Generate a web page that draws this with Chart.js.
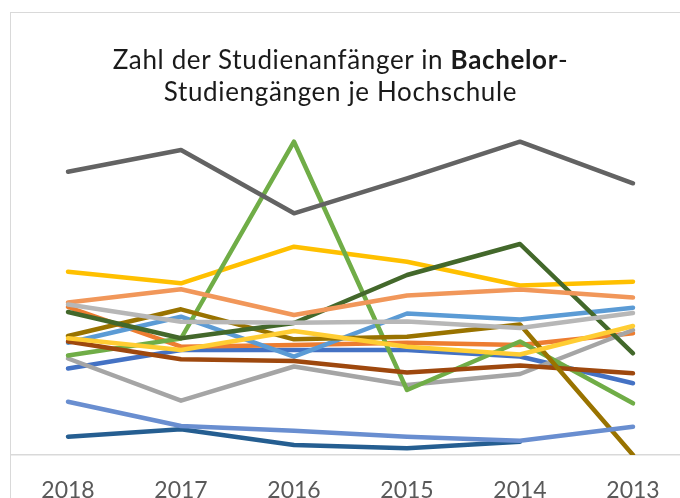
<!DOCTYPE html>
<html>
<head>
<meta charset="utf-8">
<script src="https://cdn.jsdelivr.net/npm/chart.js@4"></script>
<style>
  html, body { margin: 0; padding: 0; background: #fff; overflow: hidden; width: 680px; height: 498px; }
  #wrap { position: relative; width: 680px; height: 498px; overflow: hidden; }
  #frame { position: absolute; left: 10px; top: 12px; width: 700px; height: 500px;
           border-left: 1.5px solid #d9d9d9; border-top: 1.5px solid #d9d9d9; pointer-events: none; }
  #title { position: absolute; left: 0; top: 43px; width: 681px; text-align: center;
           font-family: Lato, sans-serif; font-size: 26px; line-height: 32px; color: #1a1a1a;
           letter-spacing: 0.65px; }
  #title b { font-weight: bold; }
  canvas { position: absolute; left: 0; top: 0; }
</style>
</head>
<body>
<div id="wrap">
  <canvas id="grafico" width="700" height="498"></canvas>
  <div id="frame"></div>
  <div id="title">Zahl der Studienanfänger in <b>Bachelor</b>-<br>Studiengängen je Hochschule</div>
</div>
<script>
// Jahre (Excel-Reihenfolge, absteigend)
const years = ['2018', '2017', '2016', '2015', '2014', '2013']

// Werte je Hochschule (aus dem Bild geschätzt)
const blue         = [865, 1050, 1050, 1050, 985, 717]
const orange       = [1480, 1083, 1100, 1123, 1100, 1217]
const gray         = [965, 543, 885, 700, 810, 1250]
const gold         = [1833, 1717, 2083, 1933, 1695, 1733]
const lightBlue    = [1123, 1383, 983, 1415, 1355, 1473]
const green        = [995, 1165, 3133, 650, 1135, 517]
const brown        = [1135, 957, 940, 825, 895, 817]
const darkGray     = [2833, 3050, 2417, 2767, 3133, 2717]
const olive        = [1190, 1457, 1157, 1183, 1305, 0]
const steelBlue    = [183, 257, 100, 67, 133, null]
const darkGreen    = [1430, 1167, 1320, 1800, 2110, 1017]
const periwinkle   = [533, 290, 243, 183, 143, 283]
const salmon       = [1525, 1657, 1400, 1595, 1655, 1575]
const lightGray    = [1505, 1333, 1323, 1335, 1270, 1420]
const brightYellow = [1167, 1050, 1240, 1083, 1005, 1290]

const series = [
  [blue, '#4472C4'],
  [orange, '#ED7D31'],
  [gray, '#A5A5A5'],
  [gold, '#FFC000'],
  [lightBlue, '#5B9BD5'],
  [green, '#70AD47'],
  [brown, '#9E480E'],
  [darkGray, '#636363'],
  [olive, '#997300'],
  [steelBlue, '#255E91'],
  [darkGreen, '#43682B'],
  [periwinkle, '#698ED0'],
  [salmon, '#F1975A'],
  [lightGray, '#B7B7B7'],
  [brightYellow, '#FFCD33']
]

const data = {
  labels: years,
  datasets: series.map(([values, color], i) => ({
    data: values,
    borderColor: color,
    backgroundColor: color,
    borderWidth: 4.5,
    pointRadius: 0,
    tension: 0,
    fill: false,
    borderCapStyle: 'round',
    borderJoinStyle: 'round',
    order: series.length - i // spätere Reihen oben, wie in Excel
  }))
}

const config = {
  type: 'line',
  data,
  options: {
    responsive: false,
    animation: false,
    events: [],
    layout: { padding: { left: 11.5, right: 10.5, top: 125, bottom: 0 } },
    plugins: { legend: { display: false }, title: { display: false }, tooltip: { enabled: false } },
    scales: {
      x: {
        offset: true,
        grid: { display: false, drawTicks: false },
        border: { display: true, color: '#d9d9d9', width: 1.5 },
        ticks: { color: '#595959', font: { family: 'Lato', size: 23 }, padding: 22, maxRotation: 0 },
        afterFit: s => { s.height = 43 }
      },
      y: {
        display: false,
        min: 0,
        max: 3300
      }
    }
  }
}

const graph = new Chart(document.getElementById('grafico'), config)
</script>
</body>
</html>
